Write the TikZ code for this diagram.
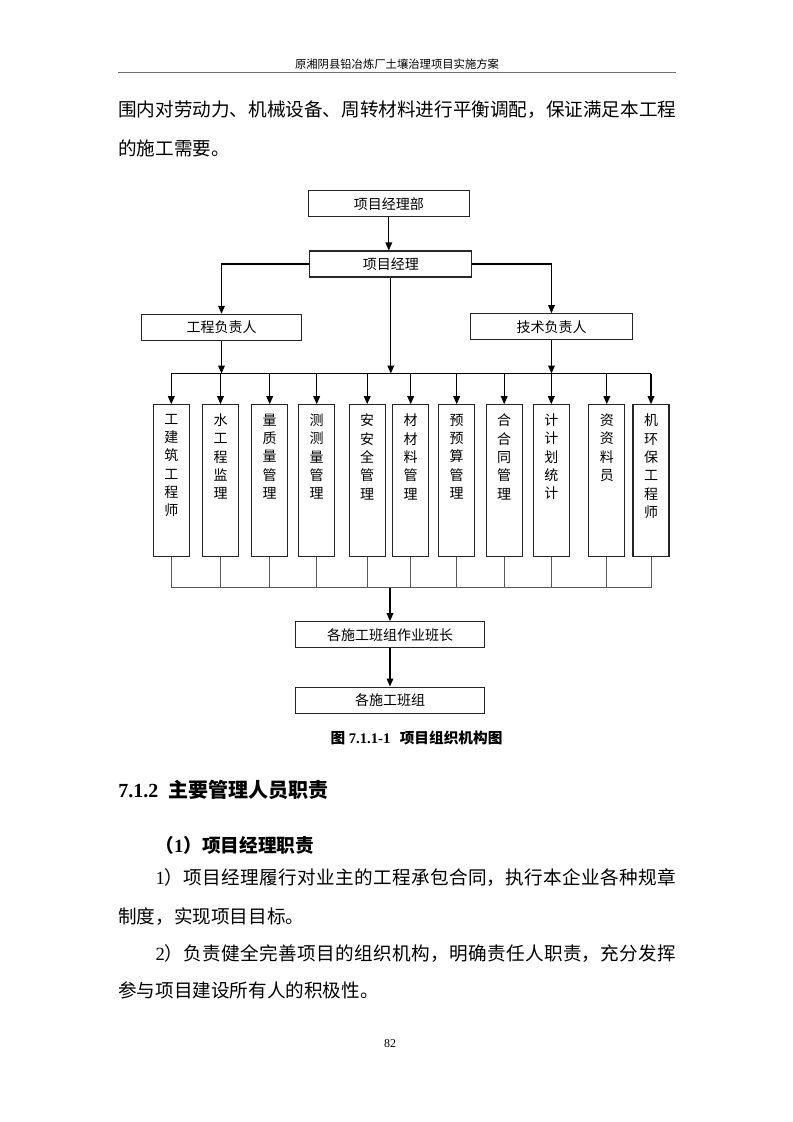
\documentclass[tikz,border=0pt]{standalone}
\usepackage{fontspec}
\setmainfont{Liberation Serif}
\newfontfamily\cjk{Noto Sans CJK SC}
\usepackage{tikz}
\usetikzlibrary{arrows.meta,positioning}
\XeTeXlinebreaklocale "zh"
\XeTeXlinebreakskip=0pt plus 2pt

\tikzset{
  arr/.style={-{Triangle[length=6pt,width=5pt]}, line width=0.9pt},
  unit/.style={draw=black!85, line width=0.8pt, minimum height=19.5pt, inner sep=0pt, font=\cjk\fontsize{10.5}{12}\selectfont},
  post/.style={draw=black!85, line width=0.8pt, inner sep=0pt, font=\cjk\fontsize{10.5}{13.75}\selectfont},
  feed/.style={draw=black!65, line width=0.7pt},
  body/.style={anchor=west, inner sep=0pt, font=\cjk\fontsize{13.95}{16}\selectfont},
}
\newcommand{\vlabel}[1]{\parbox[c][114pt][t]{27pt}{\centering\vspace*{6.9pt}#1\par}}
\newcommand{\fullline}[2]{\parbox{#1}{\parindent=0pt\parfillskip=0pt #2}}

\begin{document}
\begin{tikzpicture}[x=0.75pt,y=-0.75pt]
    % Page
    \useasboundingbox (0,0) rectangle (793,1122);
    \fill[white] (0,0) rectangle (793,1122);

    % Running head and text above the chart
    \node[font=\cjk\fontsize{8.5}{10}\selectfont] (Header) at (397,64) {原湘阴县铅冶炼厂土壤治理项目实施方案};
    \draw[black!55, line width=1.1pt] (118,72.3) -- (676,72.3);
    \node[body] (TextA) at (118,109.7) {围内对劳动力、机械设备、周转材料进行平衡调配，保证满足本工程};
    \node[body] (TextB) at (118,148) {的施工需要。};

    % Top of the chart
    \node[unit, minimum width=120.75pt] (Dept) at (388.8,203.7) {项目经理部};
    \node[unit, minimum width=121.3pt] (Manager) at (390.8,264) {项目经理};
    \node[unit, minimum width=120.5pt] (EngLead) at (221.5,327.3) {工程负责人};
    \node[unit, minimum width=121.5pt] (TechLead) at (551.5,326.7) {技术负责人};

    % Posts
    \foreach \i/\x/\t in {1/171.3/{工\\建\\筑\\工\\程\\师}, 2/220.5/{水\\工\\程\\监\\理},
        3/269.7/{量\\质\\量\\管\\理}, 4/316.7/{测\\测\\量\\管\\理}, 5/367.2/{安\\安\\全\\管\\理},
        6/410.7/{材\\材\\料\\管\\理}, 7/456.7/{预\\预\\算\\管\\理}, 8/504.2/{合\\合\\同\\管\\理},
        9/551.3/{计\\计\\划\\统\\计}, 10/606.8/{资\\资\\料\\员}, 11/651/{机\\环\\保\\工\\程\\师}}
        \node[post] (B\i) at (\x,480.7) {\vlabel{\t}};

    % Bottom of the chart
    \node[unit, minimum width=141.5pt] (Foreman) at (390,634.7) {各施工班组作业班长};
    \node[unit, minimum width=141.5pt, below=28.7pt of Foreman] (Teams) {各施工班组};

    % Bus lines
    \coordinate (BusTop) at (0,373.5);
    \coordinate (BusLow) at (0,587.5);

    % Connect the boxes
    \draw[arr] (Dept.south) -- (Dept.south |- Manager.north);
    \draw[arr] (Manager.west) -| (EngLead.north);
    \draw[arr] (Manager.east) -| (TechLead.north);
    \draw[arr] (Manager.south) -- (Manager.south |- BusTop);
    \draw[arr] (EngLead.south) -- (EngLead.south |- BusTop);
    \draw[arr] (TechLead.south) -- (TechLead.south |- BusTop);
    \draw[line width=0.9pt] (B1.north |- BusTop) -- (B11.north |- BusTop);
    \foreach \i in {1,...,11}
        \draw[arr] (B\i.north |- BusTop) -- (B\i.north);
    \foreach \i in {1,...,11}
        \draw[feed] (B\i.south) -- (B\i.south |- BusLow);
    \draw[feed] (B1.south |- BusLow) -- (B11.south |- BusLow);
    \draw[arr] (Foreman.north |- BusLow) -- (Foreman.north);
    \draw[arr] (Foreman.south) -- (Teams.north);

    % Caption
    \node[font=\bfseries\fontsize{11}{13}\selectfont] (Caption) at (416.5,738) {{\cjk 图} 7.1.1-1\hspace{7pt}{\cjk 项目组织机构图}};

    % Text below the chart
    \node[body, font=\bfseries\fontsize{15}{18}\selectfont] (Sec) at (118,790) {7.1.2\hspace{8pt}{\cjk 主要管理人员职责}};
    \node[body, font=\cjk\bfseries\fontsize{14}{16}\selectfont] (Sub) at (155.3,845) {（{\rmfamily 1}）项目经理职责};
    \node[body] (TextC) at (155.3,877.5) {\fullline{390.5pt}{{\rmfamily 1}）项目经理履行对业主的工程承包合同，执行本企业各种规章}};
    \node[body] (TextD) at (118,917) {制度，实现项目目标。};
    \node[body] (TextE) at (155.3,953.5) {\fullline{390.5pt}{{\rmfamily 2}）负责健全完善项目的组织机构，明确责任人职责，充分发挥}};
    \node[body] (TextF) at (118,990) {参与项目建设所有人的积极性。};
    \node[font=\fontsize{9}{10}\selectfont] (Page) at (390,1043.3) {82};
\end{tikzpicture}
\end{document}
